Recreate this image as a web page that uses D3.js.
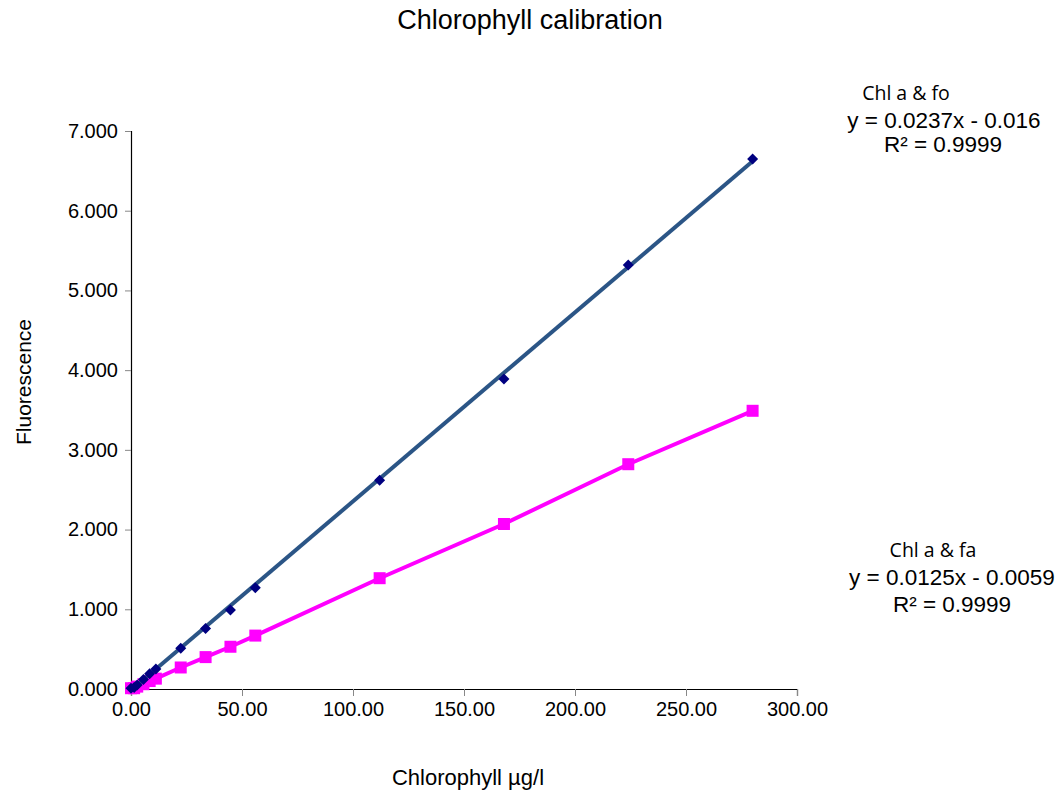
<!DOCTYPE html>
<html>
<head>
<meta charset="utf-8">
<script src="https://cdnjs.cloudflare.com/ajax/libs/d3/7.8.5/d3.min.js"></script>
<style>
  body { margin: 0; background: #fff; }
  text { font-family: "Liberation Sans", Arial, sans-serif; fill: #000; }
</style>
</head>
<body>
<div id="chart-container"></div>
<script>
// Chlorophyll concentrations (µg/l)
const concentrations = [0, 1.4, 2.8, 5.6, 8.4, 11.2, 22.4, 33.6, 44.8, 56, 112, 168, 224, 280];
// Chl a & fo readings
const foValues = [0.01, 0.02, 0.05, 0.12, 0.19, 0.25, 0.51, 0.76, 0.99, 1.27, 2.62, 3.89, 5.32, 6.65];
// Chl a & fa readings
const faValues = [0.01, 0.01, 0.03, 0.06, 0.10, 0.13, 0.27, 0.40, 0.53, 0.67, 1.39, 2.07, 2.82, 3.49];
// linear fit for fo (slope, intercept)
const foFit = [0.0237, -0.016];
const xTicks = [0, 50, 100, 150, 200, 250, 300];
const yTicks = [0, 1, 2, 3, 4, 5, 6, 7];

const width = 1063;
const height = 791;
const margin = { top: 131, right: 266, bottom: 102, left: 131 };

const svg = d3.select("#chart-container")
  .append("svg")
  .attr("width", width)
  .attr("height", height);

const innerWidth = width - margin.left - margin.right;
const innerHeight = height - margin.top - margin.bottom;

const xScale = d3.scaleLinear().domain([0, 300]).range([0, innerWidth]);
const yScale = d3.scaleLinear().domain([0, 7]).range([innerHeight, 0]);

const g = svg.append("g")
  .attr("transform", `translate(${margin.left},${margin.top})`);

// axes
const xAxis = g.append("g")
  .attr("transform", `translate(0,${innerHeight})`)
  .call(d3.axisBottom(xScale).tickValues(xTicks).tickFormat(d3.format(".2f")).tickSize(7).tickPadding(6));
const yAxis = g.append("g")
  .call(d3.axisLeft(yScale).tickValues(yTicks).tickFormat(d3.format(".3f")).tickSize(6).tickPadding(7));

[xAxis, yAxis].forEach(a => {
  a.select(".domain").attr("stroke", "#000").attr("stroke-width", 1.2);
  a.selectAll(".tick line").attr("stroke", "#888");
  a.selectAll(".tick text")
    .style("font-family", "'Liberation Sans', Arial, sans-serif")
    .style("font-size", "20px")
    .attr("fill", "#000");
});

// fa series line + squares
const line = d3.line()
  .x((d, i) => xScale(concentrations[i]))
  .y(d => yScale(d));

g.append("path")
  .datum(faValues)
  .attr("d", line)
  .attr("fill", "none")
  .attr("stroke", "#ff00ff")
  .attr("stroke-width", 4);

g.selectAll(".sq")
  .data(faValues)
  .enter()
  .append("rect")
  .attr("class", "sq")
  .attr("x", (d, i) => xScale(concentrations[i]) - 6)
  .attr("y", d => yScale(d) - 6)
  .attr("width", 12)
  .attr("height", 12)
  .attr("fill", "#ff00ff");

// fo trendline
const xMin = d3.min(concentrations), xMax = d3.max(concentrations);
g.append("line")
  .attr("x1", xScale(xMin))
  .attr("y1", yScale(foFit[0] * xMin + foFit[1]))
  .attr("x2", xScale(xMax))
  .attr("y2", yScale(foFit[0] * xMax + foFit[1]))
  .attr("stroke", "#2b5586")
  .attr("stroke-width", 4);

// fo diamonds
g.selectAll(".dia")
  .data(foValues)
  .enter()
  .append("path")
  .attr("class", "dia")
  .attr("transform", (d, i) => `translate(${xScale(concentrations[i])},${yScale(d)})`)
  .attr("d", "M0,-5.5L5.5,0L0,5.5L-5.5,0Z")
  .attr("fill", "#000080");

// title
svg.append("text")
  .attr("x", 530)
  .attr("y", 29)
  .style("text-anchor", "middle")
  .style("font-size", "27px")
  .text("Chlorophyll calibration");

// axis labels
svg.append("text")
  .attr("x", 468)
  .attr("y", 785)
  .style("text-anchor", "middle")
  .style("font-size", "22px")
  .text("Chlorophyll µg/l");

svg.append("text")
  .attr("transform", "translate(31,382) rotate(-90)")
  .style("text-anchor", "middle")
  .style("font-size", "21px")
  .text("Fluorescence");

// trendline labels
const labels = [
  { t: "Chl a & fo", x: 906, y: 100, f: "'Open Sans', Lato, sans-serif", s: 19.5 },
  { t: "y = 0.0237x - 0.016", x: 944, y: 128, s: 22.5 },
  { t: "R² = 0.9999", x: 943, y: 152, s: 22.5 },
  { t: "Chl a & fa", x: 933, y: 557, f: "'Open Sans', Lato, sans-serif", s: 19.5 },
  { t: "y = 0.0125x - 0.0059", x: 952, y: 585, s: 22.5 },
  { t: "R² = 0.9999", x: 952, y: 612, s: 22.5 }
];
svg.selectAll(".lbl")
  .data(labels)
  .enter()
  .append("text")
  .attr("class", "lbl")
  .attr("x", d => d.x)
  .attr("y", d => d.y)
  .style("text-anchor", "middle")
  .style("font-family", d => d.f || "'Liberation Sans', Arial, sans-serif")
  .style("font-size", d => d.s + "px")
  .text(d => d.t);
</script>
</body>
</html>
